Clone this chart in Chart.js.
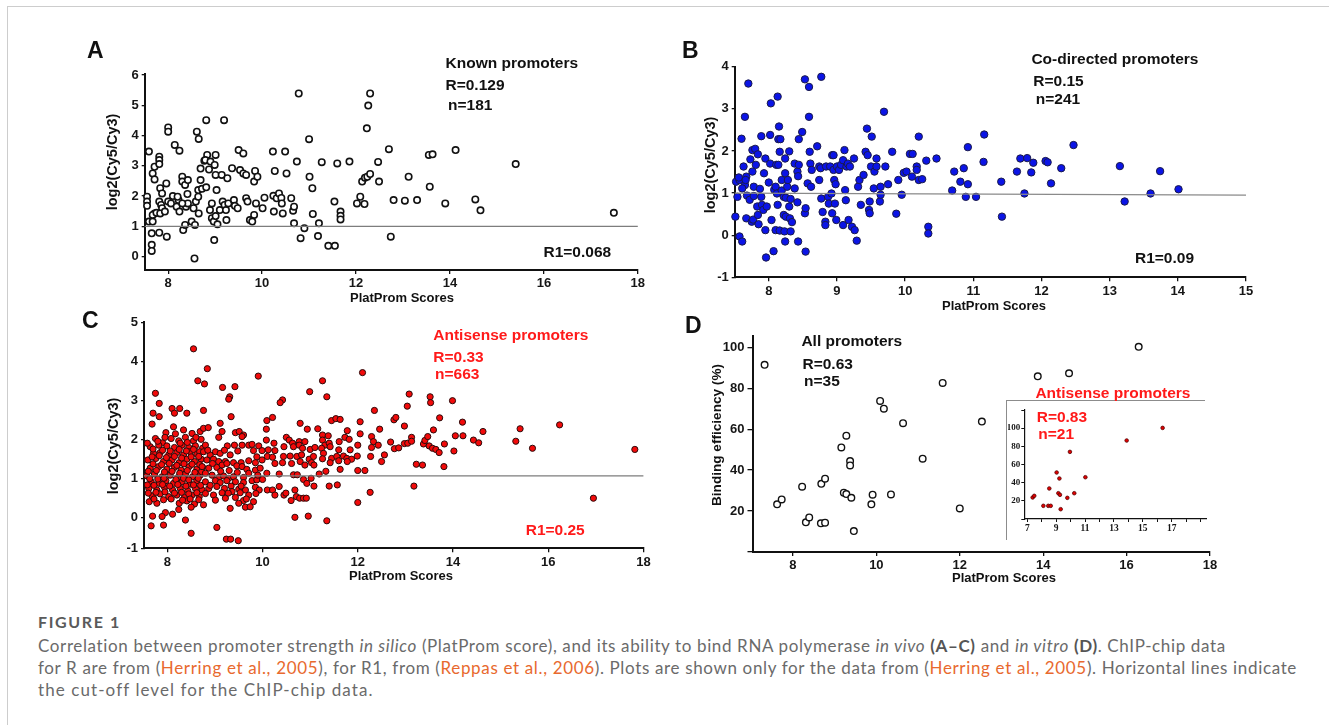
<!DOCTYPE html>
<html><head><meta charset="utf-8">
<script src="https://cdn.jsdelivr.net/npm/chart.js@4.4.1/dist/chart.umd.min.js"></script>
<style>
html,body{margin:0;padding:0;background:#fff;}
body{width:1329px;height:725px;position:relative;overflow:hidden;font-family:"Liberation Sans",Arial,sans-serif;}
.frame-top{position:absolute;left:7px;top:6px;width:1322px;height:0;border-top:1px solid #cdcdcd;}
.frame-left{position:absolute;left:7px;top:6px;width:0;height:719px;border-left:1px solid #cdcdcd;}
canvas{position:absolute;}
.lt{position:absolute;transform:translateY(-50%);font-weight:bold;line-height:1;white-space:nowrap;color:#111;}
.xt{position:absolute;transform:translate(-50%,-50%);font-weight:bold;line-height:1;white-space:nowrap;color:#111;font-size:13px;}
.yt{position:absolute;transform:translate(-50%,-50%) rotate(-90deg);font-weight:bold;line-height:1;white-space:nowrap;color:#111;font-size:14.5px;}
.an{font-size:15.5px;}
.red{color:#ff1a1a;}
.inset-frame{position:absolute;left:1006px;top:400px;width:198px;height:139px;border-left:1.5px solid #8c8c8c;border-top:1.5px solid #8c8c8c;}
.cap{position:absolute;left:38px;white-space:nowrap;transform:translateY(-50%);line-height:1;font-family:Lato,"Open Sans",sans-serif;font-size:17px;color:#6a6a6a;}
.cap b{color:#555;}
.cap .lk{color:#e8692e;}
.capt{font-weight:bold;color:#5a5a5a;font-size:16px;}
</style></head>
<body>
<div class="frame-top"></div><div class="frame-left"></div>

<canvas id="cA"></canvas>
<canvas id="cB"></canvas>
<canvas id="cC"></canvas>
<canvas id="cD"></canvas>
<div class="inset-frame"></div>
<canvas id="cI"></canvas>

<!-- panel letters -->
<div class="lt" style="left:87px;top:50px;font-size:23px">A</div>
<div class="lt" style="left:682px;top:50px;font-size:23px">B</div>
<div class="lt" style="left:82px;top:320px;font-size:23px">C</div>
<div class="lt" style="left:685px;top:325px;font-size:23px">D</div>

<!-- axis titles -->
<div class="xt" style="left:402px;top:297px">PlatProm Scores</div>
<div class="xt" style="left:994px;top:305px">PlatProm Scores</div>
<div class="xt" style="left:401px;top:575px">PlatProm Scores</div>
<div class="xt" style="left:1004px;top:577px">PlatProm Scores</div>
<div class="yt" style="left:111.5px;top:162px">log2(Cy5/Cy3)</div>
<div class="yt" style="left:709.6px;top:165px">log2(Cy5/Cy3)</div>
<div class="yt" style="left:113px;top:446px">log2(Cy5/Cy3)</div>
<div class="yt" style="left:716.6px;top:435px;font-size:13.6px">Binding efficiency (%)</div>

<!-- annotations -->
<div class="lt an" style="left:445.5px;top:63px">Known promoters</div>
<div class="lt an" style="left:445.5px;top:85px">R=0.129</div>
<div class="lt an" style="left:448px;top:105px">n=181</div>
<div class="lt an" style="left:543.5px;top:252px">R1=0.068</div>

<div class="lt an" style="left:1031.4px;top:59px">Co-directed promoters</div>
<div class="lt an" style="left:1033.3px;top:81px">R=0.15</div>
<div class="lt an" style="left:1035.8px;top:99px">n=241</div>
<div class="lt an" style="left:1135px;top:258px">R1=0.09</div>

<div class="lt an red" style="left:433.3px;top:335px">Antisense promoters</div>
<div class="lt an red" style="left:433.3px;top:357px">R=0.33</div>
<div class="lt an red" style="left:435px;top:374px">n=663</div>
<div class="lt an red" style="left:525.7px;top:530px">R1=0.25</div>

<div class="lt an" style="left:801.4px;top:341px">All promoters</div>
<div class="lt an" style="left:802.5px;top:364px">R=0.63</div>
<div class="lt an" style="left:804px;top:381px">n=35</div>

<div class="lt an red" style="left:1035.4px;top:393px">Antisense promoters</div>
<div class="lt an red" style="left:1036.7px;top:417px">R=0.83</div>
<div class="lt an red" style="left:1038.3px;top:434px">n=21</div>

<!-- caption -->
<div class="cap capt" id="cap0" style="top:622px">FIGURE 1</div>
<div class="cap" id="cap1" style="top:645px">Correlation between promoter strength <i>in silico</i> (PlatProm score), and its ability to bind RNA polymerase <i>in vivo</i> <b>(A–C)</b> and <i>in vitro</i> <b>(D)</b>. ChIP-chip data</div>
<div class="cap" id="cap2" style="top:667px">for R are from (<span class="lk">Herring et al., 2005</span>), for R1, from (<span class="lk">Reppas et al., 2006</span>). Plots are shown only for the data from (<span class="lk">Herring et al., 2005</span>). Horizontal lines indicate</div>
<div class="cap" id="cap3" style="top:689px">the cut-off level for the ChIP-chip data.</div>

<script>
// ---------------- DATA ----------------
// Panel A: Known promoters  [PlatProm score, log2(Cy5/Cy3)]
const knownPromoters = [
[7.59,3.47],[7.55,1.98],[7.55,1.82],[7.55,1.68],[7.59,1.16],[7.67,1.16],[7.65,0.77],[7.65,0.39],[7.65,0.19],[7.67,2.75],
[7.71,2.97],[7.71,2.55],[7.71,1.43],[7.67,1.38],[7.75,1.45],[7.81,3.3],[7.81,3.19],[7.81,3.06],[7.83,2.26],[7.87,2.09],
[7.81,1.82],[7.85,1.71],[7.87,1.6],[7.83,1.43],[7.81,0.79],[7.93,1.49],[7.96,2.42],[7.97,0.66],[8.0,4.27],[8.0,4.13],
[8.0,1.82],[8.06,1.76],[8.1,2.0],[8.14,3.69],[8.24,3.5],[8.18,1.65],[8.22,1.87],[8.24,1.49],[8.2,1.98],[8.3,2.64],
[8.3,2.48],[8.36,2.37],[8.42,2.53],[8.38,1.65],[8.32,0.88],[8.36,1.05],[8.41,2.07],[8.42,1.76],[8.3,1.76],[8.5,1.16],
[8.57,1.05],[8.54,1.6],[8.59,1.82],[8.64,1.98],[8.64,2.2],[8.61,4.13],[8.65,3.89],[8.65,1.43],[8.69,2.53],[8.69,2.91],
[8.72,2.24],[8.56,-0.06],[8.77,3.17],[8.81,4.51],[8.83,3.36],[8.81,2.29],[8.79,3.19],[8.87,2.88],[8.89,1.54],[8.93,1.76],
[8.93,1.27],[8.97,1.16],[8.9,3.14],[8.99,3.03],[9.01,2.7],[9.03,2.2],[9.01,3.36],[8.98,0.55],[9.05,1.07],[9.01,1.34],
[9.1,1.54],[9.14,2.7],[9.19,4.51],[9.16,1.82],[9.2,1.71],[9.23,1.54],[9.26,2.59],[9.24,1.21],[9.28,1.76],[9.36,2.92],
[9.4,1.87],[9.42,1.68],[9.48,1.6],[9.5,3.52],[9.6,3.41],[9.53,2.86],[9.6,2.75],[9.66,2.7],[9.66,1.93],[9.69,1.82],
[9.74,1.21],[9.79,1.16],[9.83,1.38],[9.83,2.48],[9.85,2.83],[9.9,2.64],[9.87,1.76],[10.01,1.6],[10.05,1.95],[10.23,3.47],
[10.27,2.83],[10.24,2.01],[10.31,1.93],[10.25,1.49],[10.36,2.09],[10.41,1.94],[10.42,1.76],[10.44,1.43],[10.49,3.47],[10.52,2.75],
[10.62,1.93],[10.66,1.52],[10.68,1.65],[10.68,1.1],[10.74,3.14],[10.78,5.39],[10.82,0.61],[10.9,0.94],[11.0,3.88],[11.01,2.64],
[11.07,2.26],[11.08,1.41],[11.19,0.68],[11.21,1.1],[11.27,3.12],[11.41,0.36],[11.55,0.36],[11.54,1.82],[11.6,3.08],[11.67,1.49],
[11.67,1.35],[11.67,1.23],[11.86,3.14],[12.02,1.76],[12.09,1.98],[12.18,1.74],[12.13,2.48],[12.19,2.61],[12.24,2.64],[12.3,2.73],
[12.23,4.24],[12.26,4.99],[12.3,5.39],[12.47,3.13],[12.49,2.48],[12.7,3.55],[12.74,0.66],[12.8,1.87],[13.04,1.85],[13.12,2.64],
[13.3,1.87],[13.57,2.31],[13.55,3.36],[13.63,3.38],[13.9,1.76],[14.12,3.52],[14.54,1.89],[14.65,1.53],[15.4,3.06],[17.49,1.45]
];
// Panel B: Co-directed promoters
const coDirectedPromoters = [
[7.51,0.44],[7.54,0.91],[7.52,1.27],[7.57,1.31],[7.57,-0.03],[7.61,-0.15],[7.56,1.37],[7.6,2.29],[7.65,2.81],[7.63,1.63],
[7.65,1.19],[7.61,1.11],[7.67,1.39],[7.66,1.31],[7.68,0.94],[7.67,0.4],[7.7,3.6],[7.73,1.8],[7.72,0.84],[7.76,2.02],
[7.76,1.51],[7.75,0.32],[7.77,0.37],[7.8,2.05],[7.78,1.15],[7.81,1.67],[7.78,0.93],[7.84,1.92],[7.83,0.68],[7.84,0.48],
[7.85,0.26],[7.87,1.1],[7.89,2.35],[7.89,0.91],[7.9,0.72],[7.92,0.6],[7.93,1.47],[7.95,1.82],[7.95,0.12],[7.96,-0.53],
[7.97,0.68],[8.0,1.25],[8.02,2.38],[8.03,3.13],[8.02,1.7],[8.04,0.36],[8.07,-0.38],[8.08,1.08],[8.1,0.12],[8.1,1.15],
[8.11,1.67],[8.12,0.99],[8.13,0.72],[8.14,1.67],[8.13,3.29],[8.14,2.28],[8.15,2.58],[8.16,1.98],[8.16,0.11],[8.17,2.28],
[8.19,1.31],[8.19,1.06],[8.22,0.91],[8.22,0.48],[8.23,0.09],[8.24,-0.15],[8.24,1.82],[8.24,1.47],[8.25,0.89],[8.25,0.44],
[8.27,1.15],[8.28,1.31],[8.3,0.68],[8.31,0.4],[8.32,0.86],[8.3,1.99],[8.32,0.09],[8.34,0.31],[8.38,1.11],[8.38,1.7],
[8.42,1.51],[8.43,1.4],[8.44,1.67],[8.42,0.78],[8.43,-0.15],[8.44,2.28],[8.49,2.45],[8.53,3.7],[8.59,3.52],[8.53,0.52],
[8.54,0.64],[8.57,1.23],[8.59,2.81],[8.6,1.98],[8.61,1.7],[8.63,1.55],[8.54,-0.39],[8.62,1.15],[8.71,2.11],[8.74,1.63],
[8.74,1.31],[8.77,3.76],[8.76,1.59],[8.77,0.87],[8.79,0.55],[8.83,0.32],[8.83,0.24],[8.84,1.63],[8.87,0.91],[8.88,0.75],
[8.9,1.63],[8.92,0.99],[8.93,1.9],[8.95,1.9],[8.95,1.55],[8.96,1.31],[8.98,1.21],[8.97,0.75],[8.99,0.36],[8.93,0.52],
[9.0,1.63],[9.03,1.55],[9.06,1.67],[9.09,1.78],[9.11,2.02],[9.12,1.07],[9.14,1.63],[9.16,1.7],[9.19,1.63],[9.09,0.24],
[9.13,0.83],[9.17,0.36],[9.22,0.2],[9.25,1.82],[9.26,0.12],[9.29,-0.13],[9.31,1.15],[9.33,1.31],[9.35,0.72],[9.39,1.43],
[9.42,1.98],[9.44,2.53],[9.45,1.9],[9.47,0.6],[9.48,0.52],[9.48,0.8],[9.5,1.63],[9.51,2.34],[9.54,1.11],[9.55,1.51],
[9.58,1.63],[9.58,1.82],[9.63,0.8],[9.64,1.15],[9.64,0.96],[9.69,2.93],[9.71,1.63],[9.75,1.21],[9.81,1.98],[9.87,0.51],
[9.9,1.31],[9.95,0.96],[9.98,1.48],[10.02,1.51],[10.07,1.93],[10.11,1.93],[10.1,1.39],[10.17,1.63],[10.17,1.55],[10.2,2.34],
[10.2,1.31],[10.25,1.33],[10.31,1.77],[10.34,0.2],[10.34,0.04],[10.46,1.82],[10.69,1.06],[10.72,1.51],[10.81,1.27],[10.86,1.59],
[10.89,0.91],[10.92,1.21],[10.92,2.09],[11.04,0.91],[11.15,1.74],[11.16,2.39],[11.41,1.27],[11.42,0.44],[11.64,1.51],[11.69,1.82],
[11.75,0.99],[11.79,1.83],[11.85,1.49],[11.88,1.72],[12.06,1.76],[12.09,1.73],[12.14,1.23],[12.29,1.59],[12.47,2.14],[13.15,1.64],
[13.22,0.8],[13.6,0.99],[13.74,1.52],[14.01,1.09]
];
// Panel C: Antisense promoters
const antisensePromoters = [
[7.68,2.39],[8.13,2.32],[7.97,2.17],[8.17,2.14],[8.34,2.24],[8.52,2.15],[8.69,2.2],
[7.75,2.02],[7.9,1.91],[8.08,2.02],[8.24,1.96],[8.38,2.05],[8.55,1.96],[8.71,2.0],
[7.64,1.81],[7.82,1.85],[7.99,1.83],[8.15,1.79],[8.31,1.85],[8.45,1.79],[8.59,1.83],[8.74,1.77],
[7.71,1.64],[7.85,1.66],[8.03,1.6],[8.2,1.66],[8.34,1.6],[8.48,1.68],[8.62,1.62],
[7.59,1.47],[7.76,1.51],[7.92,1.43],[8.1,1.47],[8.25,1.4],[8.41,1.49],[8.57,1.43],[8.71,1.49],
[7.64,1.26],[7.82,1.3],[7.99,1.23],[8.15,1.28],[8.29,1.21],[8.46,1.3],[8.62,1.23],[8.74,1.28],
[7.57,1.06],[7.73,1.11],[7.89,1.04],[8.06,1.08],[8.22,1.02],[8.38,1.11],[8.53,1.04],[8.69,1.08],
[7.66,0.91],[7.83,0.87],[7.97,0.94],[8.13,0.87],[8.31,0.91],[8.48,0.85],[8.62,0.94],
[7.61,0.74],[7.78,0.7],[7.94,0.77],[8.11,0.7],[8.27,0.74],[8.43,0.68],[8.59,0.74],[8.73,0.7],
[7.68,0.55],[7.85,0.6],[8.03,0.53],[8.2,0.57],[8.36,0.51],[8.52,0.57],[8.67,0.53],
[7.62,0.4],[7.78,0.36],[8.25,0.36],[8.41,0.42],[8.57,0.34],[8.24,0.2],[8.5,0.26],
[7.69,0.03],[7.96,0.12],[7.89,0.02],[8.11,0.08],[8.38,-0.07],[7.66,-0.22],[7.92,-0.2],
[7.58,1.9],[7.8,1.95],[7.95,2.05],[8.27,1.9],[8.42,1.92],[8.6,2.05],
[7.7,1.75],[7.9,1.72],[8.06,1.7],[8.25,1.74],[8.4,1.7],[8.55,1.74],[8.68,1.68],
[7.68,1.55],[7.83,1.58],[7.98,1.53],[8.15,1.56],[8.3,1.52],[8.5,1.55],[8.66,1.56],
[7.7,1.37],[7.88,1.35],[8.04,1.38],[8.2,1.33],[8.35,1.37],[8.52,1.36],[8.68,1.35],
[7.6,1.18],[7.77,1.2],[7.94,1.16],[8.1,1.18],[8.26,1.13],[8.42,1.2],[8.58,1.15],[8.72,1.17],
[7.63,0.99],[7.8,0.98],[7.93,1.0],[8.18,0.97],[8.34,1.0],[8.45,0.96],[8.65,1.0],
[7.58,0.83],[7.72,0.82],[7.9,0.84],[8.05,0.8],[8.22,0.84],[8.39,0.8],[8.55,0.83],[8.7,0.82],
[7.6,0.62],[7.76,0.64],[7.95,0.65],[8.15,0.62],[8.3,0.64],[8.45,0.6],[8.62,0.63],
[7.72,0.47],[7.92,0.45],[8.08,0.47],[8.32,0.44],[8.48,0.47],[8.66,0.45],
[8.55,4.32],[8.84,3.81],[8.64,3.5],[8.78,3.42],[7.75,3.18],[7.83,2.92],[9.16,3.33],[9.42,3.35],[9.31,3.09],[9.29,3.03],
[9.34,2.58],[7.7,2.67],[7.83,2.58],[8.1,2.79],[8.15,2.67],[8.26,2.79],[8.41,2.67],[8.76,2.74],[8.5,-0.41],[9.24,-0.56],
[9.33,-0.56],[9.49,-0.6],
[9.11,2.41],[8.76,2.28],[8.86,2.3],[9.15,2.2],[9.43,2.17],[9.51,2.2],[9.6,2.11],[9.08,2.05],[9.57,2.07],[8.8,1.85],
[9.26,1.83],[9.41,1.85],[9.57,1.85],[9.71,1.85],[9.78,1.87],[9.92,1.83],[8.76,1.68],[8.9,1.6],[9.01,1.68],[9.11,1.64],
[9.32,1.6],[9.81,1.71],[9.88,1.55],[9.99,1.71],[8.83,1.47],[8.97,1.49],[9.08,1.43],[9.22,1.43],[9.39,1.4],[9.55,1.4],
[9.71,1.45],[9.85,1.4],[9.99,1.47],[8.73,1.3],[8.87,1.26],[9.04,1.28],[9.15,1.34],[9.25,1.38],[9.46,1.32],[9.57,1.3],
[9.67,1.23],[9.85,1.21],[9.95,1.26],[8.8,1.13],[8.94,1.08],[9.08,1.02],[9.18,1.06],[9.29,1.0],[9.39,1.04],[9.6,1.02],
[9.71,1.13],[8.8,0.91],[9.01,0.94],[9.11,0.89],[9.25,0.94],[9.43,0.91],[9.6,0.89],[9.78,0.94],[9.88,0.96],[10.0,0.97],
[8.87,0.74],[9.04,0.79],[9.2,0.74],[9.34,0.8],[9.5,0.72],[9.64,0.7],[9.85,0.77],[9.93,0.7],[8.8,0.61],[8.97,0.57],
[9.15,0.63],[9.36,0.66],[9.53,0.63],[9.71,0.57],[9.86,0.61],[9.01,0.44],[9.22,0.49],[9.43,0.51],[9.6,0.43],[9.81,0.4],
[8.76,0.32],[9.5,0.36],[9.64,0.26],[9.32,0.23],[9.74,0.27],[9.04,-0.26],
[8.95,1.38],[9.12,1.18],[9.3,1.2],[9.47,1.15],[9.9,1.08],[8.9,0.82],[9.28,0.62],[9.55,0.8],[9.66,0.47],[8.85,1.72],
[9.2,1.72],[9.48,1.7],
[9.91,3.62],[12.1,3.71],[11.26,3.5],[10.99,3.22],[11.35,3.09],[10.42,3.01],[10.37,2.94],[12.35,2.74],[10.21,2.56],[10.09,2.48],
[10.08,2.26],[10.79,2.41],[11.45,2.48],[11.54,2.53],[11.63,2.51],[12.05,2.45],[10.94,2.26],[11.16,2.27],[11.78,2.22],[12.46,2.26],
[10.08,1.98],[10.24,1.9],[10.5,2.05],[10.56,1.98],[10.63,1.9],[10.77,1.94],[10.89,1.94],[11.26,2.11],[11.38,2.09],[11.26,1.98],
[11.31,1.85],[11.4,1.9],[11.61,1.94],[11.73,2.05],[11.82,2.0],[12.05,2.14],[12.0,1.85],[12.29,2.07],[12.33,1.94],[12.43,1.85],
[10.45,1.81],[10.65,1.81],[10.77,1.85],[10.84,1.77],[11.0,1.74],[11.1,1.79],[11.24,1.77],[11.42,1.81],[11.6,1.73],[11.84,1.73],
[12.29,1.79],[12.27,1.56],[10.12,1.73],[10.26,1.71],[10.44,1.56],[10.58,1.57],[10.72,1.56],[10.82,1.6],[10.98,1.49],[11.07,1.56],
[11.28,1.64],[11.26,1.5],[11.45,1.51],[11.56,1.56],[11.7,1.57],[11.77,1.51],[11.87,1.49],[11.99,1.57],[10.1,1.56],[10.21,1.54],
[10.26,1.38],[10.42,1.4],[10.61,1.38],[10.79,1.43],[10.89,1.34],[11.03,1.4],[11.08,1.34],[11.42,1.4],[11.6,1.45],[11.78,1.43],
[10.09,1.13],[10.35,1.11],[10.65,1.09],[10.73,1.09],[10.86,0.97],[10.93,0.87],[11.02,1.0],[11.08,0.8],[11.19,1.11],[11.33,1.18],
[11.63,1.23],[12.0,1.2],[12.15,1.2],[10.1,0.7],[10.21,0.7],[10.35,0.79],[10.45,0.57],[10.26,0.57],[10.49,0.62],[10.6,0.43],
[10.68,0.7],[10.71,0.53],[10.78,0.49],[10.86,0.49],[10.92,0.49],[11.4,0.8],[11.57,0.83],[12.26,0.64],[12.0,0.38],[10.68,0.0],
[10.96,0.03],[11.35,-0.09],
[13.08,3.16],[13.04,2.85],[13.52,3.09],[13.53,2.94],[13.99,2.99],[12.76,2.5],[12.8,2.56],[12.98,2.34],[13.72,2.55],[14.2,2.44],
[13.59,2.24],[14.05,2.09],[14.21,2.09],[14.63,2.2],[15.41,2.27],[16.24,2.37],[12.69,1.93],[12.77,1.76],[12.86,1.78],[12.98,1.89],
[13.05,1.9],[13.13,2.05],[13.13,1.95],[13.38,1.88],[13.41,1.97],[13.47,2.07],[13.5,1.83],[13.57,1.77],[13.64,1.74],[13.71,1.66],
[13.82,1.88],[14.02,1.7],[14.43,1.98],[14.54,1.91],[15.32,1.95],[15.67,1.77],[12.5,1.43],[12.56,1.6],[13.23,1.36],[13.36,1.34],
[13.81,1.3],[13.18,0.8],[16.95,0.49],[17.82,1.74]
];
// Panel D: all promoters, in vitro binding efficiency (%)
const allPromoters = [
[7.32,91.4],[7.62,23.3],[7.73,25.7],[8.22,31.9],[8.31,14.5],[8.39,16.9],[8.68,33.3],[8.77,35.8],[8.67,14.0],[8.77,14.3],
[9.16,51.1],[9.28,56.8],[9.22,29.0],[9.28,28.3],[9.37,44.4],[9.37,42.3],[9.4,26.5],[9.46,10.2],[9.88,23.3],[9.91,28.0],
[10.09,73.8],[10.18,70.0],[10.35,28.1],[10.64,62.9],[11.11,45.6],[11.59,82.6],[12.0,21.3],[12.53,63.7],[13.87,85.8],[14.62,87.3],
[16.29,100.2]
];
// Panel D inset: antisense promoters
const antisenseInVitro = [
[7.37,23.7],[7.48,25.5],[8.11,14.5],[8.45,14.5],[8.62,14.5],[8.52,33.6],[9.03,51.2],[9.22,44.6],[9.15,28.4],[9.26,26.6],
[9.31,10.8],[9.77,23.3],[9.95,73.9],[10.25,28.4],[11.02,46.0],[13.88,86.4],[16.37,100.3]
];
// ChIP-chip cut-off lines
const cutoffA = [[7.5,1.0],[18,1.0]];
const cutoffB = [[7.5,1.0],[15,0.95]];
const cutoffC = [[7.51,1.06],[18,1.06]];

// Tick values / labels
const ticksAx = [8,10,12,14,16,18],  ticksAy = [0,1,2,3,4,5,6];
const ticksBx = [8,9,10,11,12,13,14,15], ticksBy = [-1,0,1,2,3,4];
const ticksCx = [8,10,12,14,16,18],  ticksCy = [-1,0,1,2,3,4,5];
const ticksDx = [8,10,12,14,16,18],  ticksDy = [0,20,40,60,80,100];
const labelsDy = ['','20','40','60','80','100'];
const ticksIx = [7,8,9,10,11,12,13,14,15,16,17,18,19];
const labelsIx = ['7','','9','','11','','13','','15','','17','',''];
const ticksIy = [0,20,40,60,80,100,120];
const labelsIy = ['','20','40','60','80','100',''];

// ---------------- CHARTS ----------------
const toPts = arr => arr.map(p => ({x:p[0], y:p[1]}));
const SANS = '"Liberation Sans", Arial, sans-serif';

function axis(o){
  return {
    type:'linear', min:o.min, max:o.max,
    afterFit: s => { if (o.h !== undefined) s.height = o.h; if (o.w !== undefined) s.width = o.w; },
    afterBuildTicks: s => { s.ticks = o.ticks.map(v => ({value: Math.min(Math.max(v, o.min), o.max)})); },
    ticks:{
      autoSkip:false, maxRotation:0, minRotation:0,
      padding:o.pad ?? 2, color:'#161616',
      font:{family:o.family || SANS, size:o.size || 13, weight:'bold'},
      callback:(v, i) => o.labels ? o.labels[i] : String(o.ticks[i])
    },
    grid:{display:true, drawOnChartArea:false, drawTicks:true, tickLength:o.tl ?? 4, color:'#111', lineWidth:o.tw ?? 1.3},
    border:{display:true, color:'#111', width:o.bw ?? 2}
  };
}

function panel(id, box, area, datasets, xo, yo){
  const cv = document.getElementById(id);
  cv.width = box.r - box.l; cv.height = box.b - box.t;
  cv.style.left = box.l + 'px'; cv.style.top = box.t + 'px';
  xo.h = box.b - area.b; yo.w = area.l - box.l;
  new Chart(cv, {
    type:'scatter',
    data:{datasets},
    options:{
      responsive:false, animation:false, devicePixelRatio:1,
      layout:{padding:{left:0, bottom:0, top:area.t - box.t, right:box.r - area.r}},
      plugins:{legend:{display:false}, tooltip:{enabled:false}},
      scales:{ x: axis(xo), y: axis(yo) }
    }
  });
}

function cutLine(arr, color){
  return {type:'line', data:toPts(arr), borderColor:color||'#7d7d7d', borderWidth:1.3, pointRadius:0, fill:false, order:0, clip:false};
}

// Panel A
panel('cA', {l:95,t:60,r:650,b:300}, {l:144.7,t:73.5,r:637.8,b:270},
  [ {data:toPts(knownPromoters), pointRadius:3.2, pointBorderWidth:1.6, pointBackgroundColor:'#ffffff', pointBorderColor:'#111', clip:false, order:1},
    cutLine(cutoffA) ],
  {min:7.5, max:18, ticks:ticksAx}, {min:-0.44, max:6.05, ticks:ticksAy, tl:3, pad:3});

// Panel B
panel('cB', {l:690,t:55,r:1260,b:305}, {l:734.7,t:66.7,r:1246,b:277.3},
  [ {data:toPts(coDirectedPromoters), pointRadius:3.7, pointBorderWidth:1, pointBackgroundColor:'#0b14e6', pointBorderColor:'#1a1a4a', clip:false, order:1},
    cutLine(cutoffB, '#8a8a8a') ],
  {min:7.5, max:15, ticks:ticksBx}, {min:-1, max:4, ticks:ticksBy, tl:3, pad:3});

// Panel C
panel('cC', {l:95,t:310,r:655,b:575}, {l:144,t:322.3,r:643.4,b:548.3},
  [ {data:toPts(antisensePromoters), pointRadius:3.1, pointBorderWidth:1, pointBackgroundColor:'#f20a0a', pointBorderColor:'#2a0a0a', clip:false, order:1},
    cutLine(cutoffC) ],
  {min:7.51, max:18, ticks:ticksCx}, {min:-0.795, max:5, ticks:ticksCy, tl:3, pad:3});

// Panel D
panel('cD', {l:715,t:325,r:1222,b:580}, {l:752.5,t:336,r:1210,b:552},
  [ {data:toPts(allPromoters), pointRadius:3.3, pointBorderWidth:1.4, pointBackgroundColor:'#ffffff', pointBorderColor:'#111', clip:false} ],
  {min:7.03, max:18, ticks:ticksDx}, {min:0, max:105.5, ticks:ticksDy, labels:labelsDy, tl:5, pad:3});

// Inset
panel('cI', {l:1008,t:402,r:1215,b:535}, {l:1024.3,t:410,r:1206.8,b:519},
  [ {data:toPts(antisenseInVitro), pointRadius:1.8, pointBorderWidth:0.8, pointBackgroundColor:'#e00000', pointBorderColor:'#550000', clip:false} ],
  {min:6.79, max:19.43, ticks:ticksIx, labels:labelsIx, family:'"Liberation Serif", serif', size:9.5, tl:3, tw:1, bw:1.2, pad:1},
  {min:0, max:120, ticks:ticksIy, labels:labelsIy, family:'"Liberation Serif", serif', size:9, tl:3, tw:1, bw:1.2, pad:1});

// ---------------- caption fitting ----------------
function fitCaption(){
  const targets = {cap0:83, cap1:1188, cap2:1259, cap3:335};
  for (const id in targets){
    const el = document.getElementById(id);
    el.style.letterSpacing = '0px';
    const w = el.getBoundingClientRect().width;
    const n = el.textContent.length;
    el.style.letterSpacing = ((targets[id] - w) / n) + 'px';
  }
}
fitCaption();
if (document.fonts && document.fonts.ready) document.fonts.ready.then(fitCaption);
</script>
</body></html>
